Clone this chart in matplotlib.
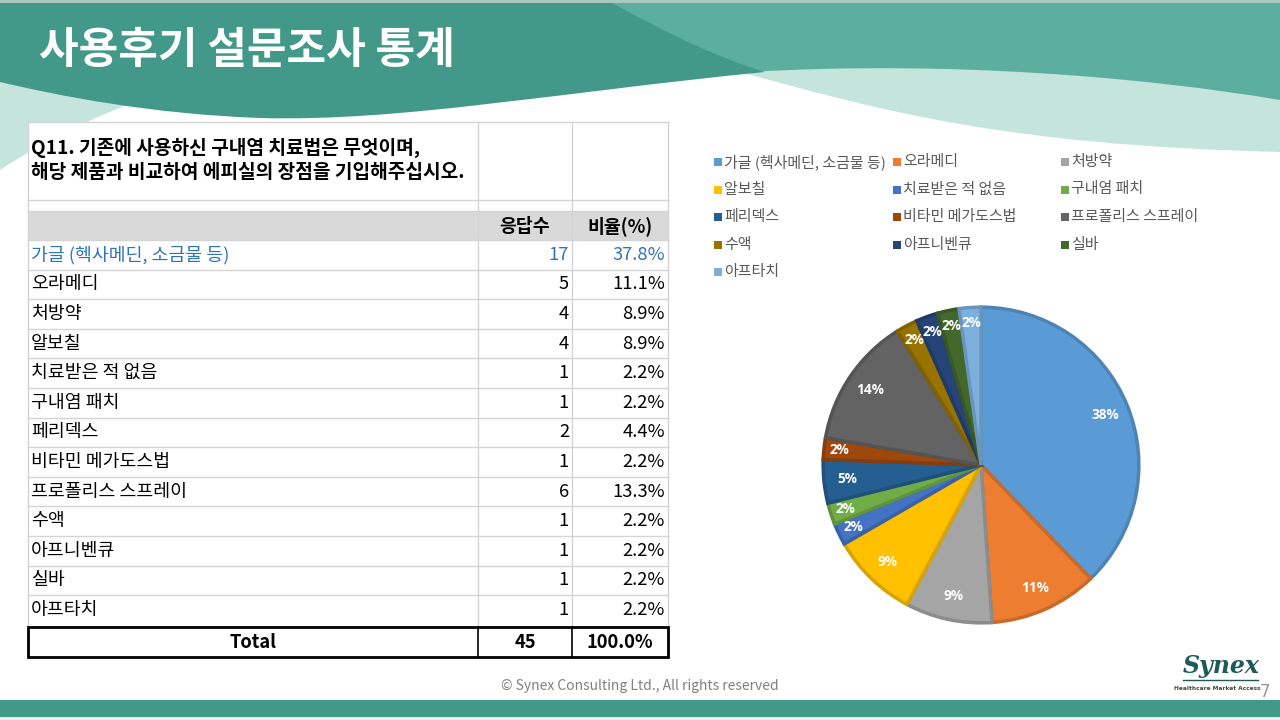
import numpy as np
import matplotlib
matplotlib.use("Agg")
import matplotlib.pyplot as plt
from matplotlib.patches import Rectangle, PathPatch
from matplotlib.path import Path
from matplotlib.colors import to_rgb

plt.rcParams['font.family'] = ['Noto Sans CJK KR', 'DejaVu Sans']

# ──────────────────────────────────────────────
# 데이터
# ──────────────────────────────────────────────
title = "사용후기 설문조사 통계"
question = ["Q11. 기존에 사용하신 구내염 치료법은 무엇이며,",
            "해당 제품과 비교하여 에피실의 장점을 기입해주십시오."]
col_headers = ["응답수", "비율(%)"]

categories = ["가글 (헥사메딘, 소금물 등)", "오라메디", "처방약", "알보칠",
              "치료받은 적 없음", "구내염 패치", "페리덱스", "비타민 메가도스법",
              "프로폴리스 스프레이", "수액", "아프니벤큐", "실바", "아프타치"]
counts = [17, 5, 4, 4, 1, 1, 2, 1, 6, 1, 1, 1, 1]
pie_labels = ["38%", "11%", "9%", "9%", "2%", "2%", "5%", "2%",
              "14%", "2%", "2%", "2%", "2%"]
colors = ["#5B9BD5", "#ED7D31", "#A5A5A5", "#FFC000", "#4472C4", "#70AD47",
          "#255E91", "#9E480E", "#636363", "#997300", "#264478", "#43682B",
          "#7CAFDD"]

total = sum(counts)

# ──────────────────────────────────────────────
# 배경 (슬라이드)
# ──────────────────────────────────────────────
DARK = "#439989"
MID = "#5CAE9E"
MINT = "#C5E4DC"

fig = plt.figure(figsize=(12.8, 7.2), dpi=100)
bg = fig.add_axes([0, 0, 1, 1])
bg.set_xlim(0, 1280)
bg.set_ylim(720, 0)
bg.axis("off")


def shape(verts, codes, color, z):
    bg.add_patch(PathPatch(Path(verts, codes), facecolor=color,
                           edgecolor="none", zorder=z))


M, L, C, CL = Path.MOVETO, Path.LINETO, Path.CURVE4, Path.CLOSEPOLY

# 오른쪽 민트 물결
shape([(740, 60), (740, 72), (880, 110), (1000, 145), (1280, 152),
       (1280, 60), (740, 60)],
      [M, L, C, C, C, L, CL], MINT, 1)
# 왼쪽 민트 조각
shape([(0, 70), (150, 95), (140, 100), (80, 122), (30, 150), (0, 170), (0, 70)],
      [M, L, L, C, C, C, CL], MINT, 1)
# 중간 청록
shape([(560, 3), (1280, 3), (1280, 100), (1150, 78), (950, 60), (750, 72),
       (560, 3)],
      [M, L, L, C, C, C, CL], MID, 2)
# 진한 청록
shape([(0, 3), (612, 3), (680, 40), (720, 58), (765, 72),
       (560, 92), (400, 122), (260, 118),
       (150, 114), (60, 96), (0, 82), (0, 3)],
      [M, L, C, C, C, C, C, C, C, C, C, CL], DARK, 3)

bg.add_patch(Rectangle((0, 0), 1280, 3, facecolor="#A8C8C0", edgecolor="none", zorder=4))
bg.add_patch(Rectangle((0, 700), 1280, 17, facecolor=DARK, edgecolor="none", zorder=4))
bg.add_patch(Rectangle((0, 717), 1280, 3, facecolor="#E8EEEC", edgecolor="none", zorder=4))

bg.text(39, 50, title, color="white", fontsize=31, fontweight="bold",
        va="center", ha="left", zorder=5)

# ──────────────────────────────────────────────
# 표
# ──────────────────────────────────────────────
X0, X1, X2, X3 = 28, 478, 572, 668
GRID = "#D4D4D4"
FS = 13.2
Z = 6

bg.add_patch(Rectangle((X0, 122), X3 - X0, 535, facecolor="white",
                       edgecolor="none", zorder=Z - 1))
# 질문 셀
for k, line in enumerate(question):
    bg.text(X0 + 3, 148 + k * 25, line, fontsize=13.8, fontweight="bold",
            va="center", ha="left", zorder=Z)
# 헤더
bg.add_patch(Rectangle((X0, 211), X3 - X0, 29, facecolor="#D9D9D9",
                       edgecolor="none", zorder=Z))
bg.text((X1 + X2) / 2, 226, col_headers[0], fontsize=FS, fontweight="bold",
        ha="center", va="center", zorder=Z + 1)
bg.text((X2 + X3) / 2, 226, col_headers[1], fontsize=FS, fontweight="bold",
        ha="center", va="center", zorder=Z + 1)

top = 240
rh = 29.6
n = len(categories)
for i, (cat, cnt) in enumerate(zip(categories, counts)):
    yc = top + (i + 0.5) * rh
    col = "#2E75B6" if i == 0 else "black"
    bg.text(X0 + 3, yc, cat, fontsize=FS, color=col, ha="left", va="center", zorder=Z)
    bg.text(X2 - 3, yc, f"{cnt}", fontsize=FS, color=col, ha="right", va="center", zorder=Z)
    bg.text(X3 - 3, yc, f"{cnt / total * 100:.1f}%", fontsize=FS, color=col,
            ha="right", va="center", zorder=Z)

# 격자선
for y in [122, 200, 211] + [top + i * rh for i in range(n)]:
    bg.plot([X0, X3], [y, y], color=GRID, lw=1, zorder=Z)
for x in (X0, X1, X2, X3):
    bg.plot([x, x], [122, top + n * rh], color=GRID, lw=1, zorder=Z)

# Total 행
ty0, ty1 = 627, 657
bg.add_patch(Rectangle((X0, ty0), X3 - X0, ty1 - ty0, facecolor="white",
                       edgecolor="black", lw=2, zorder=Z + 1))
for x in (X1, X2):
    bg.plot([x, x], [ty0, ty1], color="black", lw=1.2, zorder=Z + 1)
tyc = (ty0 + ty1) / 2
bg.text((X0 + X1) / 2, tyc, "Total", fontsize=FS, fontweight="bold",
        ha="center", va="center", zorder=Z + 2)
bg.text((X1 + X2) / 2, tyc, f"{total}", fontsize=FS, fontweight="bold",
        ha="center", va="center", zorder=Z + 2)
bg.text((X2 + X3) / 2, tyc, f"{sum(counts) / total * 100:.1f}%", fontsize=FS,
        fontweight="bold", ha="center", va="center", zorder=Z + 2)

# ──────────────────────────────────────────────
# 범례
# ──────────────────────────────────────────────
leg_x = [718, 897, 1065]
for i, (cat, c) in enumerate(zip(categories, colors)):
    r, k = divmod(i, 3)
    x = leg_x[k]
    y = 162 + r * 27.5
    bg.add_patch(Rectangle((x - 4, y - 4), 8, 8, facecolor=c, edgecolor="none", zorder=Z))
    bg.text(x + 6, y, cat, fontsize=10.8, color="#595959", ha="left",
            va="center", zorder=Z)

# ──────────────────────────────────────────────
# 원그래프
# ──────────────────────────────────────────────
cx, cy, rad = 981, 465, 161
ax = fig.add_axes([(cx - rad) / 1280, (720 - cy - rad) / 720,
                   2 * rad / 1280, 2 * rad / 720])
edge = [tuple(v * 0.85 for v in to_rgb(c)) for c in colors]
wedges, _ = ax.pie(counts, colors=colors, startangle=90, counterclock=False,
                   radius=1.0, wedgeprops=dict(linewidth=2.5))
for w, e in zip(wedges, edge):
    w.set_edgecolor(e)
for w, lab in zip(wedges, pie_labels):
    mid = np.deg2rad((w.theta1 + w.theta2) / 2)
    d = 0.9 if (w.theta2 - w.theta1) < 10 else 0.85
    ax.text(d * np.cos(mid), d * np.sin(mid), lab, color="white",
            fontsize=9.8, fontweight="bold", ha="center", va="center",
            family=["Open Sans", "DejaVu Sans"])
ax.set_xlim(-1.02, 1.02)
ax.set_ylim(-1.02, 1.02)
ax.set_aspect("equal")
ax.axis("off")

# ──────────────────────────────────────────────
# 바닥글 / 로고
# ──────────────────────────────────────────────
bg.text(640, 686, "© Synex Consulting Ltd., All rights reserved", fontsize=10,
        color="#808080", ha="center", va="center", zorder=Z)
bg.text(1221, 666, "Synex", fontsize=17, fontweight="bold", style="italic",
        family="DejaVu Serif", color="#1E5A5A", ha="center", va="center", zorder=Z)
bg.plot([1183, 1258], [680, 680], color="#1E5A5A", lw=1, zorder=Z)
bg.text(1217, 688, "Healthcare Market Access", fontsize=4.2, fontweight="bold",
        color="#444444", ha="center", va="center", zorder=Z,
        family="DejaVu Sans")
bg.text(1265, 692, "7", fontsize=12, color="#999999", ha="center",
        va="center", zorder=Z, family="DejaVu Sans")

fig.savefig("out.png", dpi=100)
